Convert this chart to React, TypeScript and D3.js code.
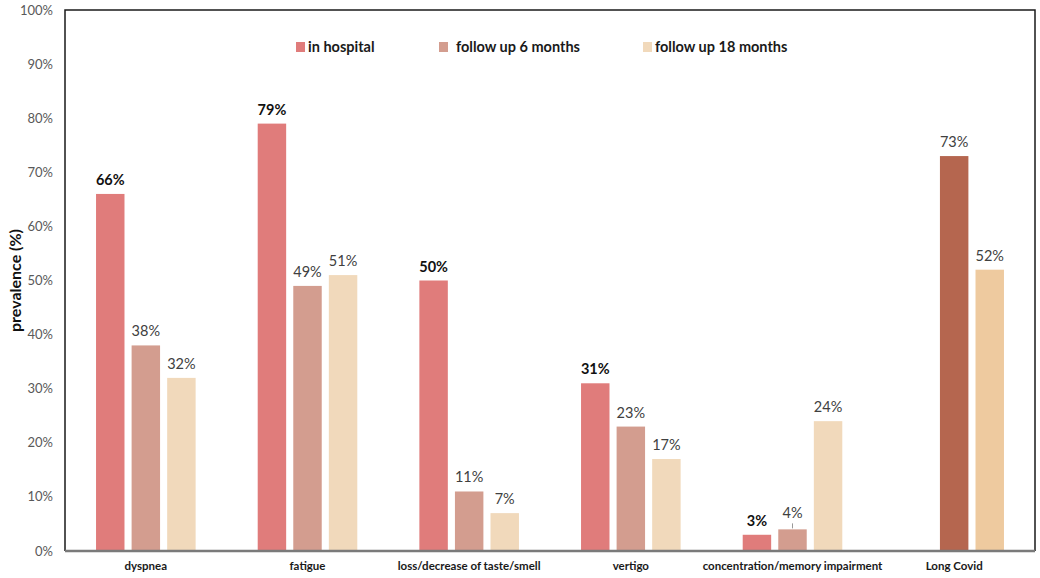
import React, { useEffect, useRef } from 'react';
import * as d3 from 'd3';

const categories = [
  'dyspnea',
  'fatigue',
  'loss/decrease of taste/smell',
  'vertigo',
  'concentration/memory impairment',
  'Long Covid',
];
const seriesNames = ['in hospital', 'follow up 6 months', 'follow up 18 months'];
const inHospital: (number | null)[] = [66, 79, 50, 31, 3, null];
const followUp6: (number | null)[] = [38, 49, 11, 23, 4, 73];
const followUp18: (number | null)[] = [32, 51, 7, 17, 24, 52];
const yTicks = [0, 10, 20, 30, 40, 50, 60, 70, 80, 90, 100];

const seriesColors = ['#E07C7B', '#D39D8F', '#F1D9BB'];
// Long Covid bars use their own colours
const longCovidColors = ['#E07C7B', '#B5664F', '#EECA9F'];

const FONT = 'Lato, "Open Sans", sans-serif';

const App: React.FC = () => {
  const svgRef = useRef<SVGSVGElement>(null);

  useEffect(() => {
    if (!svgRef.current) return;
    const svg = d3.select(svgRef.current);
    svg.selectAll('*').remove();

    const left = 65, right = 1035, top = 10, bottom = 551;
    const values = [inHospital, followUp6, followUp18];

    const x0 = d3.scaleBand<string>()
      .domain(categories)
      .range([left, right])
      .paddingInner(0.34)
      .paddingOuter(0.17);

    const x1 = d3.scaleBand<string>()
      .domain(seriesNames)
      .range([0, x0.bandwidth()])
      .paddingInner(0.2)
      .paddingOuter(0.1);

    const y = d3.scaleLinear().domain([0, 100]).range([bottom, top]);

    // Y tick labels
    svg.append('g')
      .selectAll('text')
      .data(yTicks)
      .enter().append('text')
      .attr('x', 53)
      .attr('y', d => y(d))
      .attr('dy', '0.35em')
      .attr('text-anchor', 'end')
      .style('font-family', FONT)
      .style('font-size', '13px')
      .style('fill', '#595959')
      .text(d => `${d}%`);

    // Y axis label
    svg.append('text')
      .attr('transform', `translate(21,${(top + bottom) / 2}) rotate(-90)`)
      .attr('text-anchor', 'middle')
      .style('font-family', FONT)
      .style('font-size', '16px')
      .style('font-weight', 'bold')
      .style('fill', '#111')
      .text('prevalence (%)');

    // Bars + value labels
    categories.forEach((cat, ci) => {
      seriesNames.forEach((s, si) => {
        const v = values[si][ci];
        if (v == null) return;
        const bx = (x0(cat) || 0) + (x1(s) || 0);
        const color = cat === 'Long Covid' ? longCovidColors[si] : seriesColors[si];
        svg.append('rect')
          .attr('x', bx)
          .attr('y', y(v))
          .attr('width', x1.bandwidth())
          .attr('height', y(0) - y(v))
          .attr('fill', color);

        const isFour = cat.startsWith('concentration') && si === 1;
        const ly = y(v) - (isFour ? 11 : 9);
        svg.append('text')
          .attr('x', bx + x1.bandwidth() / 2)
          .attr('y', ly)
          .attr('text-anchor', 'middle')
          .style('font-family', FONT)
          .style('font-size', '14.5px')
          .style('font-weight', si === 0 ? 'bold' : 'normal')
          .style('fill', si === 0 ? '#111' : '#404040')
          .text(`${v}%`);
        if (isFour) {
          svg.append('line')
            .attr('x1', bx + x1.bandwidth() / 2)
            .attr('x2', bx + x1.bandwidth() / 2)
            .attr('y1', ly + 5)
            .attr('y2', y(v) - 1)
            .attr('stroke', '#999')
            .attr('stroke-width', 1);
        }
      });
    });

    // Frame
    svg.append('path')
      .attr('d', `M${left},${bottom}V${top}H${right}V${bottom}`)
      .attr('fill', 'none')
      .attr('stroke', '#1a1a1a')
      .attr('stroke-width', 1.5);
    svg.append('line')
      .attr('x1', left).attr('x2', right)
      .attr('y1', bottom).attr('y2', bottom)
      .attr('stroke', '#7a7a7a')
      .attr('stroke-width', 2.5);

    // Category labels
    svg.append('g')
      .selectAll('text')
      .data(categories)
      .enter().append('text')
      .attr('x', d => (x0(d) || 0) + x0.bandwidth() / 2)
      .attr('y', 570)
      .attr('text-anchor', 'middle')
      .style('font-family', FONT)
      .style('font-size', '11.5px')
      .style('font-weight', 'bold')
      .style('fill', '#1a1a1a')
      .text(d => d);

    // Legend
    const legendX = [296, 439, 643];
    const legendTextX = [308, 456, 655];
    seriesNames.forEach((s, i) => {
      svg.append('rect')
        .attr('x', legendX[i])
        .attr('y', 42)
        .attr('width', 9)
        .attr('height', 10)
        .attr('fill', seriesColors[i]);
      svg.append('text')
        .attr('x', legendTextX[i])
        .attr('y', 52)
        .style('font-family', FONT)
        .style('font-size', '14.5px')
        .style('font-weight', 'bold')
        .style('fill', '#1a1a1a')
        .text(s);
    });
  }, []);

  return (
    <svg
      ref={svgRef}
      width={1040}
      height={578}
      style={{ position: 'absolute', left: 0, top: 0, background: '#fff' }}
    />
  );
};

export default App;
